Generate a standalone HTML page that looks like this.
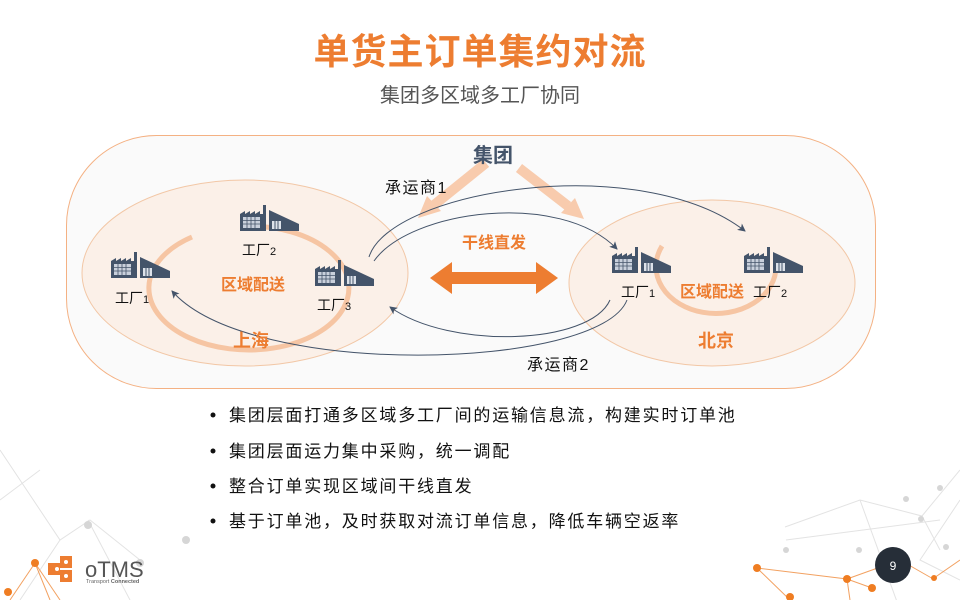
<!DOCTYPE html>
<html><head><meta charset="utf-8"><style>
body{margin:0;width:960px;height:600px;overflow:hidden;background:#fff;font-family:"Liberation Sans","Noto Sans CJK SC",sans-serif}
</style></head><body>
<svg width="960" height="600" viewBox="0 0 960 600" xmlns="http://www.w3.org/2000/svg" font-family="Liberation Sans, Noto Sans CJK SC, sans-serif">
<defs>
<g id="fac">
<path d="M0 28V11L5 8V11L10 8V11L15 8V11L20 8V11L23 11V2H26V28Z" fill="#44546a"/>
<rect x="3" y="14" width="17" height="11" fill="#c9d0dc"/>
<path d="M3 17.5H20M3 21H20M7 14V25M11 14V25M15 14V25" stroke="#44546a" stroke-width="0.8"/>
<path d="M29 28V7L59 21V28Z" fill="#44546a"/>
<rect x="32" y="18" width="9" height="8" fill="#dde2ea"/>
<path d="M35 18V26M38 18V26" stroke="#44546a" stroke-width="1"/>
</g>
<marker id="ah" markerWidth="8" markerHeight="8" refX="7" refY="4" orient="auto" markerUnits="userSpaceOnUse"><path d="M0 0L8 4L0 8L2 4Z" fill="#44546a"/></marker>
</defs>
<g stroke="#e3e3e3" stroke-width="1" fill="none">
<path d="M0 450L60 540L90 520L140 560M20 600L60 540M88 520L130 600M0 500L40 470"/>
<path d="M785 527L860 500L922 516L960 470M860 500L900 610M922 516L940 550M786 540L940 520M960 500L920 560L960 580"/>
</g>
<g fill="#d6d6d6"><circle cx="88" cy="525" r="4"/><circle cx="140" cy="563" r="4"/><circle cx="186" cy="540" r="4"/><circle cx="906" cy="499" r="3"/><circle cx="921" cy="519" r="3"/><circle cx="786" cy="550" r="3"/><circle cx="859" cy="550" r="3"/><circle cx="946" cy="547" r="3"/><circle cx="940" cy="488" r="3"/></g>
<g stroke="#ef8a3a" stroke-width="1" fill="none" opacity="0.8">
<path d="M35 563L10 600M35 563L50 600M35 563L60 600M757 568L847 579L872 588M757 568L790 600M847 579L900 560L935 580M847 579L850 600M934 578L960 560"/>
</g>
<g fill="#ef7d22"><circle cx="35" cy="563" r="4"/><circle cx="8" cy="592" r="4"/><circle cx="757" cy="568" r="4"/><circle cx="790" cy="597" r="4"/><circle cx="847" cy="579" r="4"/><circle cx="872" cy="588" r="4"/><circle cx="934" cy="578" r="3"/></g>

<text x="480" y="64" text-anchor="middle" font-size="36" font-weight="bold" fill="#ed7d31" letter-spacing="1">单货主订单集约对流</text>
<text x="480" y="102" text-anchor="middle" font-size="20" fill="#555">集团多区域多工厂协同</text>

<rect x="66.5" y="135.5" width="809" height="253" rx="90" fill="#fafafa" stroke="#f4b183" stroke-width="1"/>
<ellipse cx="245" cy="273" rx="163" ry="93" fill="#fbf0e8" stroke="#f2c7a6" stroke-width="1"/>
<ellipse cx="712" cy="283" rx="143" ry="83" fill="#fbf0e8" stroke="#f2c7a6" stroke-width="1"/>

<path d="M192 237 A100 62 0 1 0 248 226" fill="none" stroke="#f6c5a3" stroke-width="5"/>
<path d="M662 246 A60 47 0 1 0 776 266" fill="none" stroke="#f6c5a3" stroke-width="5"/>

<path d="M486 163 L434 205" stroke="#f8cbad" stroke-width="10"/>
<path d="M418 218 L427 196 L441 211Z" fill="#f8cbad"/>
<path d="M519 168 L568 206" stroke="#f8cbad" stroke-width="10"/>
<path d="M584 219 L561 213 L575 198Z" fill="#f8cbad"/>

<path d="M430 278 L452 262 V272 H536 V262 L558 278 L536 294 V284 H452 V294Z" fill="#ed7d31"/>

<g fill="none" stroke="#44546a" stroke-width="1" marker-end="url(#ah)">
<path d="M369 257 C390 190 640 150 745 231"/>
<path d="M374 261 C410 210 560 190 617 249"/>
<path d="M610 300 C590 345 450 350 390 307"/>
<path d="M627 300 C600 370 250 380 172 291"/>
</g>

<use href="#fac" x="111" y="250"/>
<use href="#fac" x="240" y="203"/>
<use href="#fac" x="315" y="258"/>
<use href="#fac" x="612" y="245"/>
<use href="#fac" x="744" y="245"/>

<g font-size="14" fill="#111">
<text x="115" y="303">工厂<tspan font-size="11">1</tspan></text>
<text x="242" y="255">工厂<tspan font-size="11">2</tspan></text>
<text x="317" y="310">工厂<tspan font-size="11">3</tspan></text>
<text x="621" y="297">工厂<tspan font-size="11">1</tspan></text>
<text x="753" y="297">工厂<tspan font-size="11">2</tspan></text>
<text x="385" y="193" font-size="16" letter-spacing="1.5">承运商1</text>
<text x="527" y="370" font-size="16" letter-spacing="1.5">承运商2</text>
</g>
<g fill="#ed7d31" font-size="16" font-weight="bold">
<text x="221" y="290">区域配送</text>
<text x="680" y="297">区域配送</text>
<text x="462" y="248">干线直发</text>
<text x="233" y="347" font-size="18">上海</text>
<text x="698" y="347" font-size="18">北京</text>
</g>
<text x="473" y="162" font-size="20" font-weight="bold" fill="#44546a">集团</text>

<g font-size="17" fill="#111" letter-spacing="1.8">
<circle cx="213" cy="415" r="2.5"/><text x="229" y="421">集团层面打通多区域多工厂间的运输信息流，构建实时订单池</text>
<circle cx="213" cy="451" r="2.5"/><text x="229" y="457">集团层面运力集中采购，统一调配</text>
<circle cx="213" cy="486" r="2.5"/><text x="229" y="492">整合订单实现区域间干线直发</text>
<circle cx="213" cy="521" r="2.5"/><text x="229" y="527">基于订单池，及时获取对流订单信息，降低车辆空返率</text>
</g>

<g>
<rect x="48" y="563" width="12" height="12" fill="#ed7d31"/>
<rect x="60" y="556" width="12" height="12" fill="#ed7d31"/>
<rect x="60" y="570" width="12" height="12" fill="#ed7d31"/>
<circle cx="57" cy="569" r="2" fill="#fff"/><circle cx="66" cy="562" r="2" fill="#fff"/><circle cx="66" cy="576" r="2" fill="#fff"/>
</g>
<text x="85" y="577" font-size="22" fill="#555">oTMS</text>
<text x="86" y="583" font-size="5.5" fill="#666">Transport <tspan font-weight="bold">Connected</tspan></text>

<circle cx="893" cy="565" r="18" fill="#262e38"/>
<text x="893" y="570" text-anchor="middle" font-size="12" fill="#fff">9</text>
</svg>
</body></html>
